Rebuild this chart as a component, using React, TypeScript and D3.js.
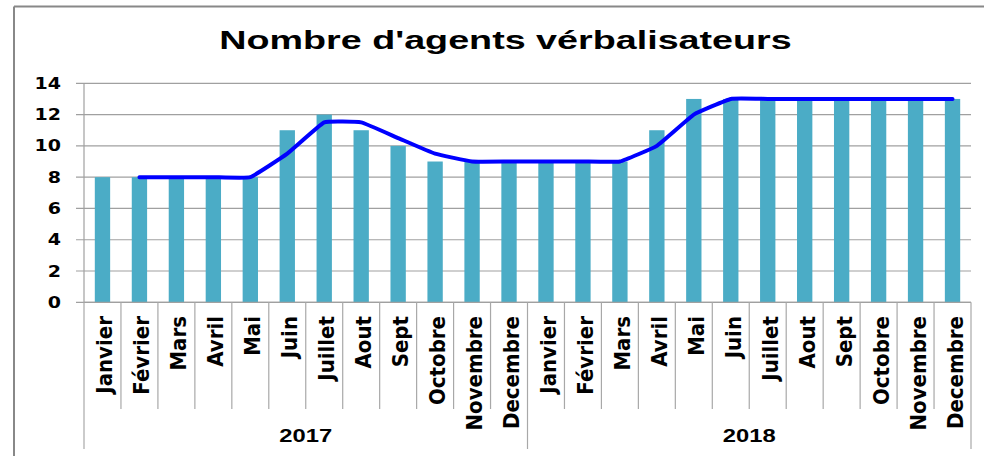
import React from "react";
import * as d3 from "d3";

const TITLE = "Nombre d'agents vérbalisateurs";
const months = ["Janvier", "Février", "Mars", "Avril", "Mai", "Juin", "Juillet", "Aout", "Sept", "Octobre", "Novembre", "Decembre"];
const years = ["2017", "2018"];
const agents2017 = [8, 8, 8, 8, 8, 11, 12, 11, 10, 9, 9, 9];
const agents2018 = [9, 9, 9, 11, 13, 13, 13, 13, 13, 13, 13, 13];
const trend2017: (number | null)[] = [null, 8, 8, 8, 8, 9.5, 11.5, 11.5, 10.5, 9.5, 9, 9];
const trend2018: (number | null)[] = [9, 9, 9, 10, 12, 13, 13, 13, 13, 13, 13, 13];
const yTicks = [0, 2, 4, 6, 8, 10, 12, 14];

const W = 984;
const H = 456;
const X0 = 84;
const X1 = 971;
const Y0 = 302.3;
const Y1 = 83.3;
const STRETCH = 1.27;

export default function App() {
  const series = [agents2017, agents2018];
  const trends = [trend2017, trend2018];
  const rows = years.flatMap((yr, yi) =>
    months.map((m, mi) => ({ key: `${yr}-${mi}`, year: yr, month: m, value: series[yi][mi], trend: trends[yi][mi] }))
  );
  const x = d3.scaleBand<string>().domain(rows.map((r) => r.key)).range([X0, X1]).padding(0);
  const xYear = d3.scaleBand<string>().domain(years).range([X0, X1]).padding(0);
  const y = d3.scaleLinear().domain([0, 14]).range([Y0, Y1]);
  const bw = x.bandwidth();
  const barW = bw * 0.415;
  const cx = (k: string) => (x(k) as number) + bw / 2;

  const linePts = rows.filter((r) => r.trend !== null);
  const line = d3
    .line<typeof rows[number]>()
    .x((r) => cx(r.key))
    .y((r) => y(r.trend as number))
    .curve(d3.curveCardinal.tension(0.7));

  const boundaries = rows.map((r) => x(r.key) as number).concat([X1]);
  const yearBounds = years.map((yr) => xYear(yr) as number).concat([X1]);

  return (
    <svg width={W} height={H} style={{ position: "absolute", left: 0, top: 0, background: "#fff" }}>
      <rect x={0} y={0} width={W} height={H} fill="#fff" />
      {/* chart border */}
      <line x1={14} y1={6.5} x2={W} y2={6.5} stroke="#888" strokeWidth={2} />
      <line x1={14} y1={6.5} x2={14} y2={H} stroke="#888" strokeWidth={2} />

      {/* title */}
      <g transform={`translate(505.5,48.5) scale(1.45,1)`}>
        <text textAnchor="middle" fontFamily="'Liberation Sans', Arial, sans-serif" fontWeight="bold" fontSize={26} fill="#000">
          {TITLE}
        </text>
      </g>

      {/* gridlines + y ticks */}
      {yTicks.map((t) => (
        <g key={t}>
          <line x1={76} x2={X1} y1={y(t)} y2={y(t)} stroke="#a0a0a0" strokeWidth={1.2} />
          <g transform={`translate(61,${y(t) + 5.5}) scale(${STRETCH},1)`}>
            <text textAnchor="end" fontFamily="'DejaVu Sans', Verdana, sans-serif" fontWeight="bold" fontSize={15} fill="#000">
              {t}
            </text>
          </g>
        </g>
      ))}

      {/* y axis line */}
      <line x1={X0} x2={X0} y1={Y1} y2={Y0} stroke="#a0a0a0" strokeWidth={1.2} />

      {/* bars */}
      {rows.map((r) => (
        <rect key={r.key} x={cx(r.key) - barW / 2} y={y(r.value)} width={barW} height={Y0 - y(r.value)} fill="#4BACC6" />
      ))}

      {/* trend line */}
      <path d={line(linePts) || ""} fill="none" stroke="#0000FF" strokeWidth={4} strokeLinejoin="round" strokeLinecap="round" />

      {/* x axis */}
      <line x1={X0} x2={X1} y1={Y0} y2={Y0} stroke="#a0a0a0" strokeWidth={1.2} />
      {boundaries.map((b, i) => (
        <line key={i} x1={b} x2={b} y1={Y0} y2={yearBounds.includes(b) ? 449 : 409} stroke="#a8a8a8" strokeWidth={1.2} />
      ))}

      {/* month labels */}
      {rows.map((r) => (
        <text
          key={r.key}
          transform={`translate(${cx(r.key) + 10},316) rotate(-90)`}
          textAnchor="end"
          fontFamily="'Liberation Sans Narrow', 'DejaVu Sans Condensed', 'Arial Narrow', sans-serif"
          fontWeight="bold"
          fontSize={22}
          fill="#000"
        >
          {r.month}
        </text>
      ))}

      {/* year labels */}
      {years.map((yr) => (
        <g key={yr} transform={`translate(${(xYear(yr) as number) + xYear.bandwidth() / 2},441.5) scale(1.25,1)`}>
          <text textAnchor="middle" fontFamily="'Liberation Sans', Arial, sans-serif" fontWeight="bold" fontSize={19} fill="#000">
            {yr}
          </text>
        </g>
      ))}
    </svg>
  );
}
